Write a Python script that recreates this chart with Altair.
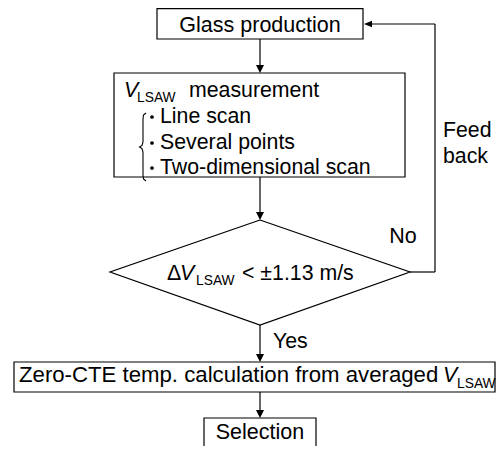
import altair as alt
import pandas as pd

# ---- flowchart content ----
box_names = ["Glass production", "VLSAW measurement", "Zero-CTE calculation", "Selection"]
box_x1 = [157, 114, 14, 204]
box_x2 = [363, 405, 495, 316]
box_y1 = [8.6, 73, 362, 418]
box_y2 = [39, 177, 392, 470]

diamond_x = [260, 410, 260, 110, 260]
diamond_y = [220, 272, 325, 272, 220]

seg_x1 = [260, 260, 260, 260, 410, 435, 435]
seg_y1 = [39, 177, 325, 392, 272, 272, 24]
seg_x2 = [260, 260, 260, 260, 435, 435, 370]
seg_y2 = [67, 214, 356, 412, 272, 24, 24]

arrow_down_x = [260, 260, 260, 260]
arrow_down_y = [73, 220, 362, 418]
arrow_left_x = [364]
arrow_left_y = [24]

brace_x = [146, 143.5, 143, 143, 142, 139.5, 142, 143, 143, 143.5, 146]
brace_y = [113, 115, 119, 142, 145.5, 147, 148.5, 152, 175, 179, 181]

bullet_x = [152, 152, 152]
bullet_y = [117, 143, 168]

center_text = ["Glass production", "No", "Selection"]
center_x = [260, 403, 260]
center_y = [32, 243, 439]

left_text = ["measurement", "Line scan", "Several points", "Two-dimensional scan",
             "\u0394", "< \u00b11.13 m/s", "Feed", "back", "Yes"]
left_x = [189, 160, 160, 160, 167, 242, 443, 443, 273]
left_y = [97, 123, 149, 174, 280, 280, 137, 163, 348]

wide_text = ["Zero-CTE temp. calculation from averaged"]
wide_x = [19]
wide_y = [382]

ital_text = ["V", "V", "V"]
ital_x = [124, 180, 443]
ital_y = [97, 280, 382]

sub_text = ["LSAW", "LSAW", "LSAW"]
sub_x = [137, 196, 457]
sub_y = [102, 285, 388]

FONT = "Liberation Sans"
XS = alt.Scale(domain=[8, 496])
YS = alt.Scale(domain=[8, 446], reverse=True)

def X(f="x"):
    return alt.X(f, type="quantitative", scale=XS, axis=None)

def Y(f="y"):
    return alt.Y(f, type="quantitative", scale=YS, axis=None)

boxes = alt.Chart(pd.DataFrame({"name": box_names, "x": box_x1, "x2": box_x2,
                                "y": box_y1, "y2": box_y2})).mark_rect(
    fill="white", stroke="black", strokeWidth=1.2).encode(
    x=X(), x2="x2", y=Y(), y2="y2")

diamond = alt.Chart(pd.DataFrame({"x": diamond_x, "y": diamond_y,
                                  "i": list(range(len(diamond_x)))})).mark_line(
    color="black", strokeWidth=1.2).encode(x=X(), y=Y(), order="i:Q")

segs = alt.Chart(pd.DataFrame({"x": seg_x1, "y": seg_y1, "x2": seg_x2, "y2": seg_y2})).mark_rule(
    color="black", strokeWidth=1.2).encode(x=X(), y=Y(), x2="x2", y2="y2")

arr_down = alt.Chart(pd.DataFrame({"x": arrow_down_x, "y": arrow_down_y})).mark_point(
    shape="M0,0 L-0.5,-1 L0.5,-1 Z", filled=True, fill="black",
    size=256, opacity=1).encode(x=X(), y=Y())

arr_left = alt.Chart(pd.DataFrame({"x": arrow_left_x, "y": arrow_left_y})).mark_point(
    shape="M0,0 L1,-0.42 L1,0.42 Z", filled=True, fill="black",
    size=256, opacity=1).encode(x=X(), y=Y())

brace = alt.Chart(pd.DataFrame({"x": brace_x, "y": brace_y,
                                "i": list(range(len(brace_x)))})).mark_line(
    color="black", strokeWidth=1.1).encode(x=X(), y=Y(), order="i:Q")

bullets = alt.Chart(pd.DataFrame({"x": bullet_x, "y": bullet_y})).mark_circle(
    color="black", size=14, opacity=1).encode(x=X(), y=Y())

t_center = alt.Chart(pd.DataFrame({"x": center_x, "y": center_y, "t": center_text})).mark_text(
    font=FONT, fontSize=21.5, align="center", baseline="alphabetic", color="black").encode(
    x=X(), y=Y(), text="t:N")

t_left = alt.Chart(pd.DataFrame({"x": left_x, "y": left_y, "t": left_text})).mark_text(
    font=FONT, fontSize=21.3, align="left", baseline="alphabetic", color="black").encode(
    x=X(), y=Y(), text="t:N")

t_wide = alt.Chart(pd.DataFrame({"x": wide_x, "y": wide_y, "t": wide_text})).mark_text(
    font=FONT, fontSize=22.2, align="left", baseline="alphabetic", color="black").encode(
    x=X(), y=Y(), text="t:N")

t_ital = alt.Chart(pd.DataFrame({"x": ital_x, "y": ital_y, "t": ital_text})).mark_text(
    font=FONT, fontSize=21.3, fontStyle="italic", align="left", baseline="alphabetic",
    color="black").encode(x=X(), y=Y(), text="t:N")

t_sub = alt.Chart(pd.DataFrame({"x": sub_x, "y": sub_y, "t": sub_text})).mark_text(
    font=FONT, fontSize=13.8, align="left", baseline="alphabetic", color="black").encode(
    x=X(), y=Y(), text="t:N")

chart = alt.layer(boxes, diamond, segs, arr_down, arr_left, brace, bullets,
                  t_center, t_left, t_wide, t_ital, t_sub).properties(
    width=488, height=438, padding=0,
    autosize=alt.AutoSizeParams(type="none"),
).configure_view(stroke=None)

chart.save("out.html", embed_options={"renderer": "svg", "actions": False})
